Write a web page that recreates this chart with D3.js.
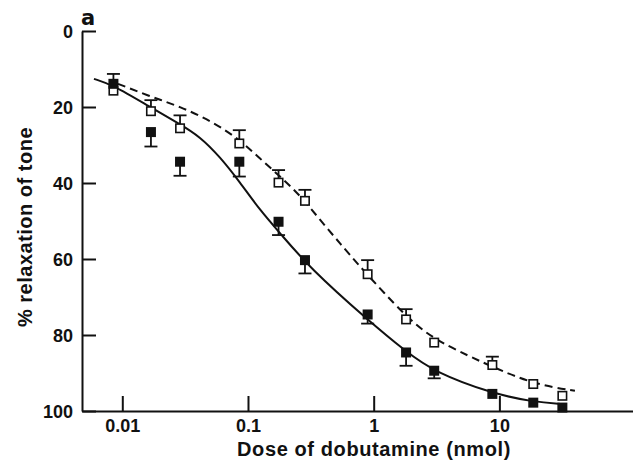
<!DOCTYPE html>
<html>
<head>
<meta charset="utf-8">
<script src="https://cdn.jsdelivr.net/npm/d3@7"></script>
<style>
  html, body { margin: 0; padding: 0; background: #fff; }
  svg { display: block; }
  text { font-family: "Liberation Sans", Arial, Helvetica, sans-serif; font-weight: bold; fill: #111; }
</style>
</head>
<body>
<svg id="chart" width="633" height="466"></svg>
<script>
// ---- data ----
const doses = [0.0085, 0.0169, 0.0288, 0.0853, 0.175, 0.284, 0.895, 1.81, 3.03, 8.79, 18.6, 31.7];
const filledPct = [13.9, 26.6, 34.4, 34.4, 50.2, 60.3, 74.6, 84.6, 89.4, 95.5, 97.8, 99.1];
const filledErr = [0, 3.8, 3.7, 3.9, 3.5, 3.5, 2.4, 3.5, 2.0, 0, 0, 0];
const openPct = [15.7, 21.1, 25.6, 29.6, 39.9, 44.7, 64.0, 75.9, 82.0, 87.9, 92.9, 96.0];
const openErr = [4.4, 2.9, 3.4, 3.5, 3.3, 2.9, 3.7, 2.7, 0, 2.2, 0, 0];

// fitted curves
const solidDose = [0.00595, 0.00843, 0.0166, 0.0288, 0.0415, 0.0598, 0.0863, 0.124, 0.180, 0.311, 0.90, 1.81, 3.02, 8.73, 18.5, 32.1];
const solidPct  = [12.6, 14.2, 20.0, 24.5, 27.8, 33.1, 39.8, 47.1, 53.2, 62.4, 76.1, 84.4, 89.7, 95.4, 97.6, 98.2];
const dashDose = [0.00925, 0.0166, 0.0288, 0.0527, 0.0863, 0.124, 0.180, 0.259, 0.374, 0.540, 0.778, 1.81, 3.02, 5.84, 8.73, 18.5, 39.9];
const dashPct  = [13.9, 17.2, 19.9, 23.9, 28.7, 33.5, 38.3, 43.2, 49.7, 55.9, 62.0, 75.3, 81.1, 85.7, 88.3, 92.9, 94.7];

const xTicks = [0.01, 0.1, 1, 10];
const xTickLabels = ["0.01", "0.1", "1", "10"];
const yTicks = [0, 20, 40, 60, 80, 100];

// ---- layout ----
const svg = d3.select("#chart");
const x = d3.scaleLog().domain([0.00478, 115.6]).range([82, 633]);
const y = d3.scaleLinear().domain([0, 100]).range([31, 411]);
const ink = "#111";

// axes
const yAxis = d3.axisLeft(y).tickValues(yTicks).tickSizeInner(-14).tickSizeOuter(0).tickPadding(9);
const gy = svg.append("g").attr("transform", "translate(82,0)").call(yAxis);
gy.selectAll("text").style("font-size", "18px").attr("dy", "0.34em");

const xAxis = d3.axisBottom(x).tickValues(xTicks).tickFormat((d, i) => xTickLabels[i])
  .tickSizeInner(-15).tickSizeOuter(0).tickPadding(8);
const gx = svg.append("g").attr("transform", "translate(0,411)").call(xAxis);
gx.selectAll("text").style("font-size", "18px");

svg.selectAll(".domain, .tick line").attr("stroke", ink).attr("stroke-width", 2);

// axis titles
svg.append("text").attr("x", 374).attr("y", 456).attr("text-anchor", "middle")
  .style("font-size", "20px").style("letter-spacing", "0.6px")
  .text("Dose of dobutamine (nmol)");
svg.append("text").attr("transform", "translate(32,227) rotate(-90)").attr("text-anchor", "middle")
  .style("font-size", "20px").style("letter-spacing", "0.5px")
  .text("% relaxation of tone");
svg.append("text").attr("x", 81).attr("y", 25).style("font-size", "21px")
  .style("font-family", "'DejaVu Sans', sans-serif").text("a");

// curves
const line = d3.line().x(d => x(d[0])).y(d => y(d[1])).curve(d3.curveBasis);
svg.append("path").datum(d3.zip(solidDose, solidPct)).attr("d", line)
  .attr("fill", "none").attr("stroke", ink).attr("stroke-width", 2);
svg.append("path").datum(d3.zip(dashDose, dashPct)).attr("d", line)
  .attr("fill", "none").attr("stroke", ink).attr("stroke-width", 2).attr("stroke-dasharray", "8,5");

// error bars
const cap = 6.5;
function errBars(vals, errs, dir) {
  const g = svg.append("g").attr("stroke", ink).attr("stroke-width", 1.8);
  doses.forEach((d, i) => {
    if (!errs[i]) return;
    const cx = x(d), y0 = y(vals[i]), y1 = y(vals[i] + dir * errs[i]);
    g.append("line").attr("x1", cx).attr("x2", cx).attr("y1", y0).attr("y2", y1);
    g.append("line").attr("x1", cx - cap).attr("x2", cx + cap).attr("y1", y1).attr("y2", y1);
  });
}
errBars(filledPct, filledErr, 1);
errBars(openPct, openErr, -1);

// markers
const s = 10;
svg.append("g").selectAll("rect").data(d3.zip(doses, openPct)).join("rect")
  .attr("x", d => x(d[0]) - (s - 1.6) / 2).attr("y", d => y(d[1]) - (s - 1.6) / 2)
  .attr("width", s - 1.6).attr("height", s - 1.6)
  .attr("fill", "#fff").attr("stroke", ink).attr("stroke-width", 1.6);
svg.append("g").selectAll("rect").data(d3.zip(doses, filledPct)).join("rect")
  .attr("x", d => x(d[0]) - s / 2).attr("y", d => y(d[1]) - s / 2)
  .attr("width", s).attr("height", s).attr("fill", ink);
</script>
</body>
</html>
